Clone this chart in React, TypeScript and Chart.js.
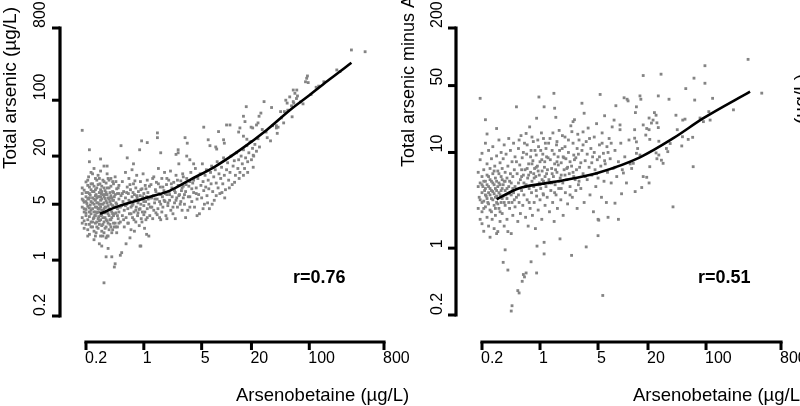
import React, { useEffect, useRef } from 'react';
import { Chart, registerables } from 'chart.js';

Chart.register(...registerables);

const FONT = '"Liberation Sans", Arial, Helvetica, sans-serif';

// ---------- shared tick values ----------
const xTicks = [0.2, 1, 5, 20, 100, 800];
const xTickLabels = ['0.2', '1', '5', '20', '100', '800'];
const leftYTicks = [0.2, 1, 5, 20, 100, 800];
const leftYTickLabels = ['0.2', '1', '5', '20', '100', '800'];
const rightYTicks = [0.2, 1, 10, 50, 200];
const rightYTickLabels = ['0.2', '1', '10', '50', '200'];

// ---------- left panel: total arsenic vs arsenobetaine ----------
const leftSparse: [number, number][] = [
  [0.18, 42], [1.46, 39], [1.46, 34], [0.94, 31], [1.1, 29.5], [0.53, 27], [3.15, 34], [3.35, 29],
  [0.22, 24], [0.89, 24], [2.6, 24], [2.45, 21], [1.6, 22], [0.3, 18.4], [0.33, 15], [0.36, 15],
  [0.22, 17], [0.63, 19], [0.75, 16], [3.3, 20], [3.6, 18], [4.0, 16], [2.6, 22], [0.33, 0.52],
  [0.44, 0.82], [0.45, 0.9], [0.35, 1.1], [0.41, 1.1], [0.37, 1.4], [0.31, 1.5], [0.52, 1.15],
  [0.54, 1.24], [0.92, 1.5], [0.61, 1.6], [0.68, 1.9], [0.77, 2.3], [1.08, 2.1], [0.9, 1.5],
];
const leftBlob: [number, number][] = [
  [0.16, 5.2], [0.165, 4.4], [0.17, 6.0], [0.17, 3.8], [0.175, 5.0], [0.18, 4.6], [0.18, 3.4], [0.18, 6.8],
  [0.185, 5.6], [0.19, 4.0], [0.19, 3.1], [0.19, 7.5], [0.19, 5.3],
  [0.2, 4.3], [0.2, 6.2], [0.2, 2.8], [0.2, 9.5], [0.2, 3.6], [0.205, 5.1], [0.21, 7.0], [0.21, 4.7],
  [0.21, 3.2], [0.21, 2.4], [0.215, 11], [0.215, 5.8], [0.22, 4.0], [0.22, 8.2], [0.22, 3.5], [0.22, 2.1],
  [0.225, 6.5], [0.225, 4.9], [0.23, 3.0], [0.23, 12.5], [0.23, 5.4], [0.23, 7.6],
  [0.24, 4.4], [0.24, 2.6], [0.24, 9.0], [0.24, 6.0], [0.245, 3.3], [0.25, 5.0], [0.25, 1.8], [0.25, 7.2],
  [0.25, 4.0], [0.25, 14], [0.255, 3.6], [0.26, 5.6], [0.26, 2.9], [0.26, 10.5], [0.26, 4.6], [0.265, 6.6],
  [0.265, 2.2], [0.27, 3.9], [0.27, 8.0], [0.27, 5.2], [0.27, 3.0],
  [0.28, 4.4], [0.28, 11.5], [0.28, 2.5], [0.28, 6.2], [0.285, 3.5], [0.29, 5.0], [0.29, 1.6], [0.29, 7.0],
  [0.29, 4.0], [0.295, 9.0], [0.3, 3.2], [0.3, 5.6], [0.3, 2.0], [0.3, 4.6], [0.3, 13], [0.305, 6.8],
  [0.31, 3.7], [0.31, 2.7], [0.31, 8.4],
  [0.32, 5.0], [0.32, 4.1], [0.32, 10], [0.33, 3.0], [0.33, 6.2], [0.33, 2.2], [0.34, 4.6], [0.34, 7.4],
  [0.34, 3.4], [0.35, 5.5], [0.35, 2.6], [0.35, 9.2], [0.36, 4.0], [0.36, 6.6], [0.36, 3.1], [0.36, 12],
  [0.37, 4.8], [0.37, 2.0], [0.38, 5.8], [0.38, 3.6], [0.38, 8.0], [0.39, 4.3], [0.39, 2.8], [0.4, 6.4],
  [0.4, 5.0], [0.4, 10.5], [0.4, 3.2], [0.41, 4.0], [0.42, 7.2], [0.42, 2.4], [0.42, 5.6],
  [0.43, 3.6], [0.43, 9.0], [0.44, 4.6], [0.44, 6.2], [0.45, 2.9], [0.45, 11], [0.46, 5.2], [0.46, 3.9],
  [0.47, 7.8], [0.47, 2.2], [0.48, 4.4], [0.48, 6.8], [0.49, 3.3], [0.5, 5.8], [0.5, 8.6], [0.5, 4.0],
];
const leftBlob2: [number, number][] = [
  [0.17, 4.8], [0.18, 5.8], [0.18, 2.9], [0.19, 4.4], [0.2, 5.4], [0.2, 3.9], [0.21, 8.6], [0.21, 5.9],
  [0.22, 4.5], [0.22, 2.8], [0.22, 6.8], [0.23, 3.8], [0.23, 4.2], [0.24, 5.2], [0.24, 7.2], [0.24, 3.0],
  [0.25, 3.4], [0.25, 5.8], [0.25, 2.3], [0.26, 4.0], [0.26, 6.4], [0.26, 3.6], [0.27, 4.6], [0.27, 2.6],
  [0.27, 6.0], [0.28, 3.3], [0.28, 5.2], [0.28, 8.8], [0.29, 4.4], [0.29, 2.8], [0.29, 6.2], [0.3, 3.6],
  [0.3, 5.0], [0.3, 7.6], [0.31, 4.2], [0.31, 5.8], [0.31, 2.3], [0.32, 3.4], [0.32, 6.6], [0.32, 2.8],
  [0.33, 4.4], [0.33, 5.2], [0.33, 8.0], [0.34, 2.5], [0.34, 3.9], [0.34, 5.9], [0.35, 4.6], [0.35, 3.2],
  [0.35, 7.0], [0.36, 2.0], [0.36, 5.2], [0.37, 3.8], [0.37, 6.0], [0.37, 2.9], [0.38, 4.4], [0.38, 10],
  [0.39, 3.2], [0.39, 5.4], [0.39, 7.0], [0.4, 2.6], [0.4, 4.2], [0.41, 6.0], [0.41, 3.4], [0.42, 4.8],
  [0.42, 9.6], [0.43, 2.9], [0.43, 5.6], [0.44, 3.8], [0.45, 6.6], [0.45, 4.6], [0.46, 2.6], [0.47, 5.0],
  [0.48, 3.6], [0.49, 8.0], [0.5, 2.9],
];
const leftBlob3: [number, number][] = [
  [0.17, 3.2], [0.18, 8.0], [0.19, 2.5], [0.2, 7.0], [0.21, 2.0], [0.21, 10], [0.22, 6.0], [0.23, 9.0],
  [0.23, 2.6], [0.24, 12], [0.25, 8.4], [0.26, 2.0], [0.26, 7.6], [0.27, 10], [0.28, 4.0], [0.29, 3.1],
  [0.29, 10.5], [0.3, 6.2], [0.31, 7.2], [0.32, 2.0], [0.33, 9.6], [0.34, 6.6], [0.35, 1.9], [0.36, 8.0],
  [0.37, 10.5], [0.38, 2.4], [0.39, 6.0], [0.4, 8.4], [0.41, 2.2], [0.42, 3.8], [0.43, 7.0], [0.44, 2.6],
  [0.46, 9.6], [0.48, 2.6], [0.5, 6.8],
];
const leftMid: [number, number][] = [
  [0.52, 3.0], [0.53, 6.4], [0.54, 4.8], [0.55, 9.6], [0.55, 3.6], [0.56, 5.4], [0.57, 7.2], [0.58, 2.6],
  [0.58, 4.2], [0.6, 6.0], [0.6, 12.5], [0.61, 3.4], [0.62, 5.0], [0.63, 8.2], [0.64, 4.4], [0.65, 2.9],
  [0.65, 6.8], [0.66, 10.5], [0.67, 3.8], [0.68, 5.4], [0.69, 7.6], [0.7, 4.6], [0.7, 2.4], [0.72, 6.2],
  [0.72, 13.5], [0.73, 3.4], [0.74, 5.0], [0.75, 9.0], [0.76, 4.0], [0.77, 6.6], [0.78, 5.6], [0.8, 3.0],
  [0.8, 8.0], [0.81, 4.6], [0.82, 11.5], [0.83, 6.0], [0.84, 3.6], [0.85, 5.2], [0.86, 7.2], [0.88, 2.7],
  [0.88, 4.3], [0.9, 6.4], [0.91, 9.6], [0.92, 5.0], [0.93, 3.3], [0.95, 7.8], [0.96, 4.0], [0.97, 5.8],
  [0.98, 12], [1.0, 3.7], [1.0, 6.8], [1.0, 4.8], [1.02, 2.5], [1.04, 8.6], [1.05, 5.4], [1.06, 3.2],
  [1.08, 6.2], [1.1, 4.4], [1.1, 10], [1.12, 7.0], [1.15, 5.0], [1.15, 2.0], [1.18, 3.6], [1.2, 6.0],
  [1.22, 8.8], [1.25, 4.6], [1.28, 3.3], [1.3, 6.4], [1.32, 11], [1.35, 5.2], [1.38, 7.6], [1.4, 3.9],
  [1.42, 9.4], [1.45, 5.8], [1.48, 4.4], [1.5, 14], [1.52, 6.8], [1.55, 3.4], [1.58, 8.2], [1.6, 5.0],
  [1.6, 3.2], [1.65, 10.5], [1.68, 6.2], [1.7, 4.6], [1.75, 7.4], [1.78, 12.5], [1.8, 5.4], [1.85, 3.6],
  [1.88, 8.8], [1.9, 6.6], [1.9, 3.3], [1.95, 4.8], [2.0, 10], [2.02, 7.2], [2.05, 5.6], [2.1, 13],
  [2.12, 4.2], [2.18, 8.0], [2.2, 6.2], [2.25, 3.8], [2.3, 9.4], [2.35, 5.2], [2.4, 3.3], [2.4, 7.0],
  [2.45, 11.5], [2.5, 6.0], [2.55, 4.6], [2.6, 8.6], [2.65, 16], [2.7, 6.6], [2.75, 5.0], [2.8, 9.8],
  [2.85, 7.4], [2.9, 4.2], [2.95, 12], [3.0, 6.0], [3.0, 8.4],
];
const leftMid2: [number, number][] = [
  [0.52, 4.6], [0.55, 6.8], [0.57, 3.2], [0.6, 4.8], [0.62, 7.0], [0.64, 2.9], [0.66, 5.6], [0.68, 8.8],
  [0.7, 3.8], [0.72, 4.8], [0.74, 7.0], [0.76, 3.2], [0.78, 9.8], [0.8, 4.2], [0.82, 6.4], [0.85, 3.9],
  [0.87, 5.6], [0.9, 4.4], [0.92, 7.6], [0.95, 3.0], [0.97, 6.2], [1.0, 5.4], [1.03, 4.0], [1.06, 7.8],
  [1.1, 3.4], [1.13, 5.8], [1.17, 8.4], [1.2, 4.6], [1.24, 6.0], [1.28, 10.5], [1.32, 4.2], [1.36, 5.8],
  [1.4, 7.2], [1.45, 3.7], [1.5, 9.0], [1.55, 5.4], [1.6, 6.6], [1.65, 4.0], [1.7, 8.2], [1.76, 5.6],
  [1.82, 6.8], [1.9, 10.5], [1.96, 5.2], [2.05, 6.6], [2.15, 9.0], [2.25, 4.6], [2.35, 7.4], [2.45, 5.6],
  [2.55, 10], [2.65, 6.4], [2.8, 5.4], [2.9, 8.0], [3.0, 11], [3.1, 6.6], [3.25, 8.8], [3.45, 6.2],
  [3.6, 9.6], [3.8, 7.8], [4.0, 10], [4.3, 6.8],
];
const leftBand: [number, number][] = [
  [3.1, 5.0], [3.2, 7.2], [3.3, 10.5], [3.4, 4.2], [3.5, 8.4], [3.6, 6.2], [3.7, 12.5], [3.8, 5.4],
  [3.9, 9.2], [4.0, 7.0], [4.1, 4.6], [4.2, 14], [4.3, 8.0], [4.4, 5.8], [4.5, 10.5], [4.6, 6.6],
  [4.7, 3.8], [4.8, 12], [4.9, 8.6], [5.0, 6.0], [5.1, 16], [5.2, 9.6], [5.3, 7.4], [5.4, 5.0],
  [5.5, 11.5], [5.6, 8.2], [5.7, 13.5], [5.8, 6.4], [6.0, 10], [6.1, 7.8], [6.2, 4.4], [6.4, 12.5],
  [6.5, 9.0], [6.6, 15], [6.8, 7.2], [7.0, 11], [7.1, 5.6], [7.3, 13.5], [7.5, 9.2], [7.7, 17],
  [7.9, 8.0], [8.1, 12], [8.3, 6.8], [8.5, 10.5], [8.7, 14.5], [9.0, 9.0], [9.2, 19], [9.4, 11.5],
  [9.7, 7.6], [10, 13.5], [10.3, 16.5], [10.6, 10], [11, 12.5], [11.3, 20], [11.7, 8.8], [12, 15],
  [12.4, 17.5], [12.8, 11.5], [13.2, 22], [13.7, 14], [14, 18], [14.5, 12.5], [15, 20], [15.5, 16],
  [16, 24], [16.5, 14], [17, 19], [17.6, 27], [18, 17], [18.6, 22], [19.2, 30], [20, 18], [20.6, 25],
  [21.3, 20], [22, 28], [23, 23], [24, 33], [25, 26],
  [3.2, 3.4], [3.6, 4.6], [4.4, 3.6], [5.2, 4.4], [5.9, 5.2], [6.7, 5.0], [7.5, 6.4], [8.8, 7.0],
  [9.5, 6.0], [10.8, 8.0], [12.5, 9.4], [14.2, 10.5], [16, 11.5], [18, 12.5], [21, 14.5],
];
const leftHigh: [number, number][] = [
  [323, 425], [473, 404], [215, 239], [235, 228], [95, 201], [97, 166], [90, 170], [121, 145],
  [70.6, 134], [72, 113], [70, 105], [58, 110], [54, 92], [65, 92], [61, 85], [28.4, 96], [35, 81],
  [17.3, 83], [45, 72], [50, 72], [55, 75], [26, 69], [24.7, 63], [16, 63], [16.7, 54], [62, 62],
  [11, 49], [10, 49], [5.3, 46], [20.7, 45], [19.8, 46], [14.5, 45], [14, 40], [24, 52], [23, 49],
  [40, 48], [42, 46], [40, 45], [27, 43], [8, 40.5], [9.2, 32], [9.4, 29], [6.0, 32], [6.3, 27],
  [16, 35.5], [17.6, 32.5], [31, 34], [41, 38.5], [7.4, 26], [7.6, 24.5], [20, 30.5], [21, 20.5],
  [93, 188], [64, 134], [67, 122], [52, 100], [64, 96], [30, 40], [34, 31], [36, 48], [46, 60],
  [49, 52], [78, 95], [84, 90], [105, 118], [130, 150], [150, 170],
];
const leftLineX = [0.295, 0.515, 1.19, 2.07, 3.62, 7.26, 14.6, 30.6, 58.6, 102, 178, 323];
const leftLineY = [3.8, 4.8, 6.2, 7.4, 10.1, 14.8, 23.9, 42.5, 75.5, 117, 184, 294];

// ---------- right panel: total arsenic minus AsB vs arsenobetaine ----------
const rightBlob: [number, number][] = [
  [0.15, 2.2], [0.16, 3.6], [0.165, 4.6], [0.17, 3.0], [0.17, 5.4], [0.175, 4.0], [0.18, 2.6], [0.18, 6.2],
  [0.185, 3.4], [0.19, 4.8], [0.19, 2.0], [0.19, 8.4], [0.19, 36.8],
  [0.2, 3.8], [0.2, 5.6], [0.2, 2.4], [0.2, 1.8], [0.2, 9.8], [0.205, 4.4], [0.21, 3.1], [0.21, 6.6],
  [0.21, 1.5], [0.215, 4.0], [0.22, 2.7], [0.22, 5.0], [0.22, 12.5], [0.22, 22], [0.225, 3.5], [0.23, 7.6],
  [0.23, 2.1], [0.23, 4.6], [0.23, 15.6], [0.235, 3.0], [0.24, 5.6], [0.24, 1.7], [0.24, 3.8], [0.24, 10.5],
  [0.25, 4.2], [0.25, 2.5], [0.25, 6.8], [0.25, 1.3], [0.26, 3.3], [0.26, 8.6], [0.26, 5.0], [0.265, 2.0],
  [0.27, 3.9], [0.27, 11.5], [0.27, 6.0], [0.28, 2.8], [0.28, 4.6], [0.28, 1.6], [0.285, 7.2], [0.29, 3.4],
  [0.29, 5.4], [0.29, 2.2], [0.3, 9.2], [0.3, 4.0], [0.3, 1.42], [0.3, 17.8], [0.3, 3.0], [0.31, 6.4],
  [0.31, 1.49],
  [0.32, 4.8], [0.32, 2.6], [0.32, 13.5], [0.33, 3.6], [0.33, 7.8], [0.33, 1.9], [0.34, 5.6], [0.34, 3.0],
  [0.34, 10], [0.35, 4.2], [0.35, 2.3], [0.35, 6.8], [0.36, 0.71], [0.36, 3.5], [0.36, 8.6], [0.37, 5.0],
  [0.37, 1.7], [0.37, 12], [0.38, 0.96], [0.38, 4.0], [0.38, 2.8], [0.38, 6.2],
  [0.39, 9.6], [0.4, 3.3], [0.4, 5.4], [0.4, 2.0], [0.41, 1.49], [0.41, 0.59], [0.41, 7.2], [0.42, 4.4],
  [0.42, 14], [0.43, 2.6], [0.43, 3.7], [0.44, 6.0], [0.44, 10.5], [0.45, 1.42], [0.45, 0.22], [0.45, 4.8],
  [0.46, 0.25], [0.46, 3.0], [0.46, 8.0], [0.47, 2.2], [0.47, 5.6], [0.48, 3.8], [0.48, 12.5], [0.49, 6.6],
  [0.5, 2.7], [0.5, 4.4], [0.5, 9.0],
];
const rightBlob2: [number, number][] = [
  [0.17, 3.6], [0.18, 4.4], [0.19, 3.2], [0.2, 4.6], [0.2, 3.0], [0.21, 5.0], [0.21, 2.6], [0.22, 3.6],
  [0.22, 4.2], [0.23, 5.8], [0.23, 3.3], [0.24, 4.4], [0.24, 2.9], [0.25, 3.6], [0.25, 5.2], [0.26, 4.0],
  [0.26, 2.4], [0.27, 4.8], [0.27, 3.2], [0.28, 3.7], [0.28, 6.4], [0.29, 4.2], [0.29, 2.6], [0.3, 5.0],
  [0.3, 3.5], [0.31, 4.4], [0.31, 2.9], [0.32, 3.8], [0.32, 6.0], [0.33, 4.6], [0.33, 2.4], [0.34, 4.0],
  [0.35, 3.3], [0.35, 5.2], [0.36, 4.6], [0.37, 3.0], [0.38, 5.0], [0.39, 3.6], [0.4, 4.2], [0.42, 3.0],
  [0.43, 5.0], [0.45, 3.6], [0.47, 4.2], [0.49, 3.2],
];
const rightMid: [number, number][] = [
  [0.52, 30], [0.52, 3.4], [0.53, 6.0], [0.54, 0.36], [0.54, 1.9], [0.55, 4.8], [0.55, 11], [0.56, 0.34],
  [0.56, 3.0], [0.57, 7.4], [0.58, 2.3], [0.58, 5.2], [0.59, 15], [0.6, 4.0], [0.61, 0.45], [0.61, 8.8],
  [0.62, 2.8], [0.63, 0.53], [0.63, 5.8], [0.64, 3.6], [0.65, 0.5], [0.65, 12.5], [0.66, 6.6], [0.67, 2.1],
  [0.68, 0.55], [0.68, 4.6], [0.68, 15.8], [0.69, 9.6], [0.7, 3.2], [0.71, 5.4], [0.72, 1.7], [0.73, 7.6],
  [0.74, 4.2], [0.75, 18.5], [0.76, 2.6], [0.77, 6.2], [0.78, 0.72], [0.78, 10.5], [0.79, 3.8], [0.8, 5.0],
  [0.81, 2.2], [0.82, 8.2], [0.83, 13], [0.84, 4.4], [0.85, 3.0], [0.86, 6.8], [0.88, 1.6], [0.89, 5.6],
  [0.9, 9.4], [0.91, 22.8], [0.91, 0.55], [0.91, 3.5], [0.92, 1.05], [0.93, 7.2], [0.94, 4.6], [0.95, 2.5],
  [0.96, 11.5], [0.97, 38], [0.98, 5.8], [1.0, 3.2], [1.0, 8.0], [1.02, 4.2], [1.04, 16], [1.05, 2.0],
  [1.06, 6.4], [1.08, 9.6], [1.09, 3.7], [1.1, 5.0], [1.12, 1.15], [1.12, 0.87], [1.12, 30], [1.13, 7.0],
  [1.15, 2.8], [1.16, 12.5], [1.18, 4.4], [1.2, 6.0],
  [1.22, 3.4], [1.25, 8.8], [1.28, 5.2], [1.3, 2.4], [1.32, 14], [1.35, 4.0], [1.38, 6.8], [1.4, 10.5],
  [1.42, 3.0], [1.45, 5.6], [1.47, 41.5], [1.48, 1.9], [1.5, 29], [1.5, 7.6], [1.52, 4.6], [1.55, 23.3],
  [1.56, 3.6], [1.58, 12], [1.6, 6.2], [1.62, 2.6], [1.65, 9.0], [1.68, 4.2], [1.7, 17], [1.74, 1.25],
  [1.75, 5.4], [1.78, 3.2], [1.8, 7.8], [1.85, 11], [1.88, 4.8], [1.9, 2.2], [1.95, 6.6], [2.0, 14.5],
  [2.02, 3.8], [2.05, 8.6], [2.1, 5.2], [2.15, 2.9], [2.2, 10], [2.25, 6.0], [2.3, 4.4], [2.35, 19],
  [2.4, 0.84], [2.4, 7.2], [2.45, 3.4], [2.5, 21], [2.5, 12.5], [2.55, 5.6], [2.6, 22], [2.6, 8.4],
  [2.7, 4.0], [2.75, 6.6], [2.8, 2.6], [2.85, 15.5], [2.9, 9.6], [2.95, 5.0], [3.0, 7.0],
];
const rightMid2: [number, number][] = [
  [0.55, 3.6], [0.6, 5.6], [0.64, 4.8], [0.7, 6.8], [0.74, 3.0], [0.8, 7.6], [0.85, 5.4], [0.9, 4.0],
  [0.95, 6.4], [1.0, 4.6], [1.05, 8.4], [1.1, 3.6], [1.15, 5.6], [1.2, 9.0], [1.3, 4.8], [1.4, 6.0],
  [1.5, 3.8], [1.6, 8.0], [1.7, 5.0], [1.8, 4.2], [1.9, 9.0], [2.0, 5.8], [2.15, 7.0], [2.3, 3.6],
  [2.5, 6.2], [2.7, 8.8], [2.9, 4.6],
];
const rightMid3: [number, number][] = [
  [0.52, 8.0], [0.56, 13.5], [0.6, 6.6], [0.63, 10], [0.67, 4.4], [0.7, 12], [0.73, 5.8], [0.77, 9.0],
  [0.8, 14.5], [0.84, 6.0], [0.87, 10.5], [0.9, 7.0], [0.94, 13.5], [0.98, 4.8], [1.02, 10.5], [1.06, 5.2],
  [1.1, 14], [1.14, 8.0], [1.18, 11], [1.23, 6.6], [1.27, 12.5], [1.33, 8.4], [1.38, 4.8], [1.43, 16],
  [1.48, 9.6], [1.54, 6.6], [1.6, 13], [1.66, 7.4], [1.72, 10.5], [1.8, 5.8], [1.86, 15], [1.94, 8.8],
  [2.0, 11.5], [2.1, 6.8], [2.2, 13.5], [2.3, 8.0], [2.42, 16.5], [2.55, 9.4], [2.65, 5.2], [2.8, 11],
  [2.95, 13.5], [3.1, 7.8], [3.3, 12], [3.5, 5.6], [3.7, 9.6], [3.95, 14], [4.2, 7.8], [4.5, 10],
  [4.8, 6.0], [5.2, 9.0], [5.6, 12.5], [6.0, 8.2], [6.6, 10], [7.2, 12.5], [8.0, 7.0],
];
const rightHigh: [number, number][] = [
  [3.2, 32.7], [3.3, 16.4], [3.4, 25.7], [3.1, 4.2], [3.2, 10.5], [3.3, 6.0], [3.4, 3.0], [3.5, 8.2],
  [3.6, 1.03], [3.6, 13], [3.7, 5.2], [3.8, 18], [3.9, 7.0], [4.0, 3.6], [4.1, 11], [4.2, 5.8],
  [4.3, 9.0], [4.4, 2.4], [4.5, 14.5], [4.6, 6.6], [4.7, 4.4], [4.8, 20], [4.9, 8.4], [5.0, 1.35],
  [5.0, 2.0], [5.0, 5.4], [5.1, 1.96], [5.2, 12], [5.3, 40.4], [5.4, 7.2], [5.5, 3.4], [5.6, 16],
  [5.7, 0.32], [5.8, 9.8], [5.9, 5.0], [6.0, 24.2], [6.1, 7.6], [6.3, 3.0], [6.4, 11.5], [6.5, 6.2],
  [6.6, 2.1], [6.8, 14], [7.0, 8.6], [7.2, 4.8], [7.4, 18.5], [7.6, 6.8], [7.8, 21.8], [8.0, 2.95],
  [8.0, 10.5], [8.2, 30.8], [8.4, 5.6], [8.8, 2.0], [8.8, 8.0], [9.2, 19.4], [9.2, 17.3], [9.4, 12.5],
  [9.6, 3.7], [9.8, 6.6],
  [10.1, 6.1], [10.3, 37.3], [10.5, 9.0], [11, 4.8], [11.2, 36], [11.5, 34.6], [11.8, 13.5], [12.2, 7.6],
  [12.7, 6.8], [13.3, 7.7], [13.8, 17.3], [13.8, 14.1], [14, 3.9], [14.1, 26.1], [14.5, 30], [14.5, 12.9],
  [14.5, 9.8], [15, 11], [16, 39], [16, 9.4], [16.4, 36], [16.8, 4.3], [17.5, 63.7], [17.5, 19.4],
  [17.5, 5.6], [18.8, 15.2], [19.3, 17.8], [19.3, 5.5], [20.6, 22.9], [20.6, 17.3], [20.6, 4.8], [21, 13.7],
  [21, 7.1], [22, 20.3], [23, 21.8], [23.9, 26.1], [25, 24.5], [25, 9.9], [25.6, 20.4], [25.6, 8.6],
  [26.6, 39], [26.6, 18.2], [27, 13.1], [27, 9.4], [28.7, 65.8], [29, 8.3], [30.4, 7.7], [33.3, 11],
  [34.6, 10.2], [35.8, 36], [37, 12.4],
  [40, 2.7], [43.4, 24.5], [45, 17.3], [51, 11.7], [52, 14.6], [52.4, 21.8], [55.8, 22.3], [57, 46.5],
  [61, 13.7], [69, 14.4], [70, 7.1], [71.6, 59.8], [73, 35.3], [84.7, 22.9], [93, 21], [97, 80.7],
  [97, 52.9], [108, 26.7], [112, 21.8], [120, 36.8], [214, 27.9], [321, 94], [469, 41.7],
];
const rightLineX = [0.3, 0.55, 1.05, 2.0, 5.04, 16, 40.4, 93, 339];
const rightLineY = [3.24, 4.2, 4.7, 5.15, 6.15, 8.9, 14.1, 22.8, 43.2];

const toXY = (pts: [number, number][]) => pts.map(([x, y]) => ({ x, y }));
const zipXY = (xs: number[], ys: number[]) => xs.map((x, i) => ({ x, y: ys[i] }));

type PanelCfg = {
  yTicks: number[];
  yTickLabels: string[];
  yMax: number;
  yTitle: string;
  yTitleSize: number;
  rLabel: string;
  pad: { left: number; right: number; top: number; bottom: number };
  yAxisX: number;
  xAxisY: number;
  yLabelX: number;
  yTitleX: number;
  yTitleY: number;
  xLabelY: number;
  xTitleX: number;
  xTitleY: number;
  rX: number;
  rY: number;
  clipLeft: number;
  fragment?: boolean;
};

const leftCfg: PanelCfg = {
  yTicks: leftYTicks,
  yTickLabels: leftYTickLabels,
  yMax: 800,
  yTitle: 'Total arsenic (µg/L)',
  yTitleSize: 19,
  rLabel: 'r=0.76',
  pad: { left: 86, right: 416, top: 28, bottom: 90 },
  yAxisX: 60,
  xAxisY: 342,
  yLabelX: 45,
  yTitleX: 16,
  yTitleY: 169,
  xLabelY: 363,
  xTitleX: 236,
  xTitleY: 401,
  rX: 293,
  rY: 283,
  clipLeft: 0,
};

const rightCfg: PanelCfg = {
  yTicks: rightYTicks,
  yTickLabels: rightYTickLabels,
  yMax: 200,
  yTitle: 'Total arsenic minus AsB (µg/L)',
  yTitleSize: 18,
  rLabel: 'r=0.51',
  pad: { left: 482, right: 19, top: 28, bottom: 91 },
  yAxisX: 456,
  xAxisY: 342,
  yLabelX: 442,
  yTitleX: 414,
  yTitleY: 167,
  xLabelY: 363,
  xTitleX: 633,
  xTitleY: 401,
  rX: 698,
  rY: 283,
  clipLeft: 400,
  fragment: true,
};

function makeAxesPlugin(cfg: PanelCfg) {
  return {
    id: 'rAxes',
    afterDatasetsDraw(chart: any) {
      const ctx = chart.ctx as CanvasRenderingContext2D;
      const xs = chart.scales.x;
      const ys = chart.scales.y;
      ctx.save();
      ctx.beginPath();
      ctx.rect(cfg.clipLeft, 0, 800 - cfg.clipLeft, 406);
      ctx.clip();
      ctx.strokeStyle = '#000';
      ctx.fillStyle = '#000';

      // y axis
      const yPix = cfg.yTicks.map((t) => ys.getPixelForValue(t));
      ctx.lineWidth = 3.2;
      ctx.lineCap = 'square';
      ctx.beginPath();
      ctx.moveTo(cfg.yAxisX, Math.max(...yPix));
      ctx.lineTo(cfg.yAxisX, Math.min(...yPix));
      ctx.stroke();
      ctx.lineCap = 'butt';
      ctx.lineWidth = 3;
      yPix.forEach((py) => {
        ctx.beginPath();
        ctx.moveTo(cfg.yAxisX, py);
        ctx.lineTo(cfg.yAxisX - 8, py);
        ctx.stroke();
      });

      // x axis
      const xPix = xTicks.map((t) => xs.getPixelForValue(t));
      ctx.lineWidth = 3.2;
      ctx.lineCap = 'square';
      ctx.beginPath();
      ctx.moveTo(Math.min(...xPix), cfg.xAxisY);
      ctx.lineTo(Math.max(...xPix), cfg.xAxisY);
      ctx.stroke();
      ctx.lineCap = 'butt';
      ctx.lineWidth = 3;
      xPix.forEach((px) => {
        ctx.beginPath();
        ctx.moveTo(px, cfg.xAxisY);
        ctx.lineTo(px, cfg.xAxisY + 8);
        ctx.stroke();
      });

      // tick labels
      ctx.font = `16px ${FONT}`;
      ctx.textAlign = 'left';
      ctx.textBaseline = 'alphabetic';
      cfg.yTickLabels.forEach((lab, i) => {
        ctx.save();
        ctx.translate(cfg.yLabelX, yPix[i]);
        ctx.rotate(-Math.PI / 2);
        ctx.fillText(lab, 0, 0);
        ctx.restore();
      });
      xTickLabels.forEach((lab, i) => {
        ctx.fillText(lab, xPix[i] - 1, cfg.xLabelY);
      });

      // axis titles
      ctx.font = `${cfg.yTitleSize}px ${FONT}`;
      ctx.save();
      ctx.translate(cfg.yTitleX, cfg.yTitleY);
      ctx.rotate(-Math.PI / 2);
      ctx.fillText(cfg.yTitle, 0, 0);
      ctx.restore();

      ctx.font = `18.5px ${FONT}`;
      ctx.fillText('Arsenobetaine (µg/L)', cfg.xTitleX, cfg.xTitleY);

      // correlation label
      ctx.font = `bold 18px ${FONT}`;
      ctx.fillText(cfg.rLabel, cfg.rX, cfg.rY);

      // neighbouring panel's axis title, cut by the frame
      if (cfg.fragment) {
        ctx.font = `19px ${FONT}`;
        ctx.save();
        ctx.translate(807, 74);
        ctx.rotate(-Math.PI / 2);
        ctx.textAlign = 'right';
        ctx.fillText('(µg/L)', 0, 0);
        ctx.restore();
      }
      ctx.restore();
    },
  };
}

function Panel({ cfg, points, lineX, lineY }: { cfg: PanelCfg; points: [number, number][][]; lineX: number[]; lineY: number[] }) {
  const ref = useRef<HTMLCanvasElement | null>(null);
  useEffect(() => {
    if (!ref.current) return;
    const allPts = points.flatMap((p) => toXY(p));
    const chart = new Chart(ref.current, {
      type: 'scatter',
      data: {
        datasets: [
          {
            data: zipXY(lineX, lineY),
            showLine: true,
            borderColor: '#000',
            borderWidth: 2.6,
            pointRadius: 0,
            cubicInterpolationMode: 'monotone',
            clip: false,
            order: 0,
          } as any,
          {
            data: allPts,
            pointStyle: 'rect',
            pointRadius: 2.0,
            pointBackgroundColor: 'rgb(132,132,132)',
            pointBorderWidth: 0,
            pointBorderColor: 'rgba(0,0,0,0)',
            showLine: false,
            clip: false,
            order: 1,
          } as any,
        ],
      },
      options: {
        responsive: false,
        animation: false,
        devicePixelRatio: 1,
        events: [],
        layout: { padding: cfg.pad },
        plugins: { legend: { display: false }, tooltip: { enabled: false } },
        scales: {
          x: { type: 'logarithmic', min: 0.2, max: 800, display: false, bounds: 'data' } as any,
          y: { type: 'logarithmic', min: 0.2, max: cfg.yMax, display: false, bounds: 'data' } as any,
        },
      },
      plugins: [makeAxesPlugin(cfg)],
    });
    return () => chart.destroy();
  }, []);
  return (
    <canvas
      ref={ref}
      width={800}
      height={406}
      style={{ position: 'absolute', left: 0, top: 0, width: 800, height: 406 }}
    />
  );
}

export default function App() {
  return (
    <div style={{ position: 'fixed', left: 0, top: 0, width: 800, height: 406, background: '#fff', overflow: 'hidden' }}>
      <Panel
        cfg={leftCfg}
        points={[leftSparse, leftBlob, leftBlob2, leftBlob3, leftMid, leftMid2, leftBand, leftHigh]}
        lineX={leftLineX}
        lineY={leftLineY}
      />
      <Panel
        cfg={rightCfg}
        points={[rightBlob, rightBlob2, rightMid, rightMid2, rightMid3, rightHigh]}
        lineX={rightLineX}
        lineY={rightLineY}
      />
    </div>
  );
}
